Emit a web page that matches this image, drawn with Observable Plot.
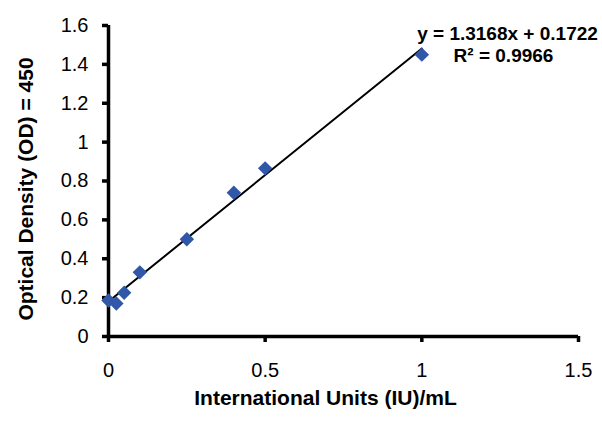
<!DOCTYPE html>
<html>
<head>
<meta charset="utf-8">
<script src="https://cdn.jsdelivr.net/npm/d3@7"></script>
<script src="https://cdn.jsdelivr.net/npm/@observablehq/plot@0.6"></script>
<style>
  html, body { margin: 0; padding: 0; background: #fff; }
  #chart { width: 602px; height: 425px; }
</style>
</head>
<body>
<div id="chart"></div>
<script>
const concentration = [0, 0.025, 0.05, 0.1, 0.25, 0.4, 0.5, 1];
const opticalDensity = [0.185, 0.17, 0.225, 0.33, 0.50, 0.74, 0.865, 1.45];
const xTicks = [0, 0.5, 1, 1.5];
const yTicks = [0, 0.2, 0.4, 0.6, 0.8, 1, 1.2, 1.4, 1.6];
const xTitle = "International Units (IU)/mL";
const yTitle = "Optical Density (OD) = 450";
const equationLines = ["y = 1.3168x + 0.1722", "R² = 0.9966"];

const data = concentration.map((x, i) => ({x, y: opticalDensity[i]}));
const font = "Liberation Sans, Arial, sans-serif";

const chart = Plot.plot({
  width: 602,
  height: 425,
  marginLeft: 108,
  marginRight: 24,
  marginTop: 25,
  marginBottom: 89,
  style: {fontFamily: font, background: "#fff", color: "#000"},
  x: {domain: [0, 1.5]},
  y: {domain: [0, 1.6]},
  marks: [
    Plot.axisX({ticks: xTicks, tickSize: 6, tickPadding: 20, strokeWidth: 3.5, fontSize: 20, label: null, tickFormat: d => String(d)}),
    Plot.axisY({ticks: yTicks, tickSize: 6, tickPadding: 14, strokeWidth: 3.5, fontSize: 20, label: null, tickFormat: d => String(d)}),
    Plot.ruleY([0], {strokeWidth: 3.5, stroke: "#000"}),
    Plot.ruleX([0], {strokeWidth: 3.5, stroke: "#000"}),
    Plot.linearRegressionY(data, {x: "x", y: "y", ci: 0, stroke: "#000", strokeWidth: 2}),
    Plot.dot(data, {x: "x", y: "y", symbol: "diamond2", r: 6.5, fill: "#3057a8", stroke: "none"}),
    Plot.text([xTitle], {frameAnchor: "bottom", dx: -18, dy: 68, text: d => d, fontSize: 21, fontWeight: "bold", fill: "#000", textAnchor: "middle"}),
    Plot.text([yTitle], {frameAnchor: "left", dx: -82, dy: 8, rotate: -90, text: d => d, fontSize: 21, fontWeight: "bold", fill: "#000", textAnchor: "middle"}),
    Plot.text([equationLines[0]], {frameAnchor: "top-right", dx: -71, dy: 1, text: d => d, fontSize: 19, fontWeight: "bold", fill: "#000", textAnchor: "middle"}),
    Plot.text([equationLines[1]], {frameAnchor: "top-right", dx: -75, dy: 23, text: d => d, fontSize: 19, fontWeight: "bold", fill: "#000", textAnchor: "middle"})
  ]
});
document.getElementById("chart").appendChild(chart);
</script>
</body>
</html>
